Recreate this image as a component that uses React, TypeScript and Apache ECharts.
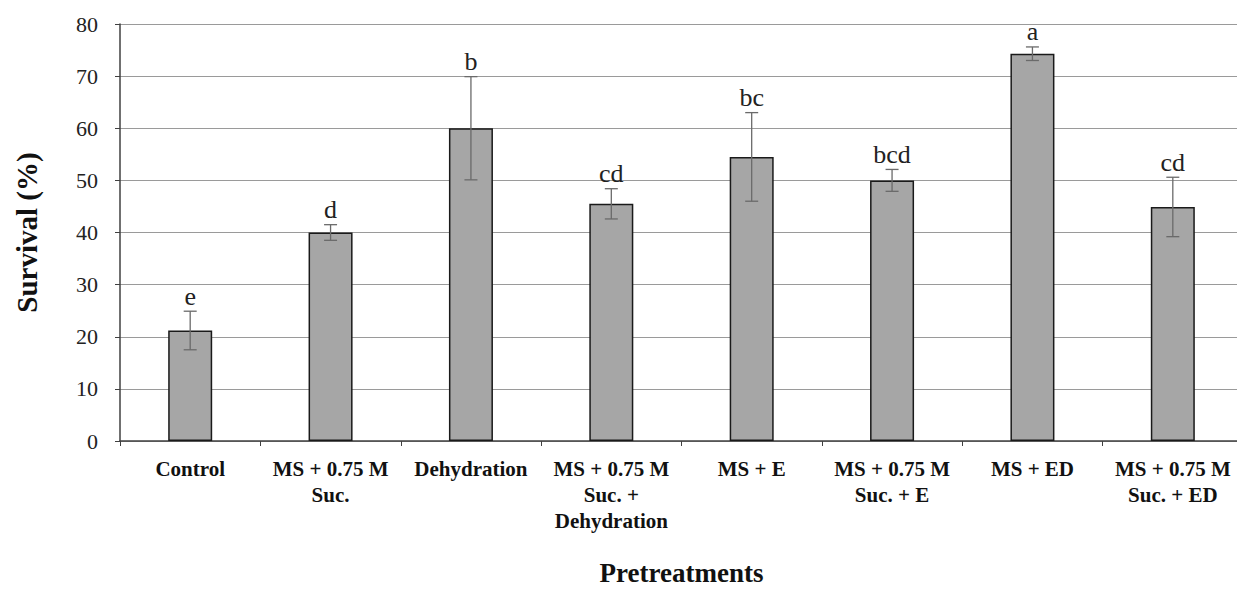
import React, { useEffect, useRef } from "react";
import * as echarts from "echarts";

const categories = [
  "Control",
  "MS + 0.75 M\nSuc.",
  "Dehydration",
  "MS + 0.75 M\nSuc. +\nDehydration",
  "MS + E",
  "MS + 0.75 M\nSuc. + E",
  "MS + ED",
  "MS + 0.75 M\nSuc. + ED",
];
const survival = [21.2, 40.0, 60.0, 45.5, 54.5, 50.0, 74.3, 44.9];
const errors = [3.7, 1.5, 9.9, 2.9, 8.5, 2.1, 1.3, 5.7];
const letters = ["e", "d", "b", "cd", "bc", "bcd", "a", "cd"];

const FONT = "'Liberation Serif', 'Times New Roman', serif";

export default function App() {
  const ref = useRef<HTMLDivElement>(null);
  useEffect(() => {
    if (!ref.current) return;
    const chart = echarts.init(ref.current, null, { renderer: "svg" });
    const errData = survival.map((v, i) => [i, v - errors[i], v + errors[i], letters[i]]);
    chart.setOption({
      animation: false,
      backgroundColor: "#ffffff",
      grid: { left: 120, top: 24, bottom: 148, right: -6, outerBoundsMode: "none", containLabel: false },
      xAxis: {
        type: "category",
        data: categories,
        name: "Pretreatments",
        nameLocation: "middle",
        nameGap: 118,
        nameTextStyle: { fontFamily: FONT, fontWeight: "bold", fontSize: 27, lineHeight: 27, color: "#111" },
        axisLine: { lineStyle: { color: "#404040", width: 1.5 } },
        axisTick: { show: true, length: 5, lineStyle: { color: "#404040" } },
        axisLabel: {
          interval: 0,
          margin: 15,
          fontFamily: FONT,
          fontWeight: "bold",
          fontSize: 21,
          lineHeight: 26,
          color: "#111",
        },
        splitLine: { show: false },
      },
      yAxis: {
        type: "value",
        min: 0,
        max: 80,
        interval: 10,
        name: "Survival (%)",
        nameLocation: "middle",
        nameGap: 78,
        nameRotate: 90,
        nameTextStyle: { fontFamily: FONT, fontWeight: "bold", fontSize: 29, lineHeight: 30, color: "#111" },
        axisLine: { show: true, lineStyle: { color: "#404040", width: 1.5 } },
        axisTick: { show: true, length: 5, lineStyle: { color: "#404040" } },
        axisLabel: { margin: 22, fontFamily: FONT, fontSize: 22, color: "#222" },
        splitLine: { show: true, lineStyle: { color: "#9a9a9a", width: 1 } },
      },
      series: [
        {
          type: "bar",
          data: survival,
          barWidth: 44,
          itemStyle: { color: "#a6a6a6", borderColor: "#1a1a1a", borderWidth: 1.5 },
          z: 2,
        },
        {
          type: "custom",
          data: errData,
          encode: { x: 0, y: [1, 2] },
          z: 3,
          renderItem: (params: any, api: any) => {
            const idx = api.value(0);
            const lo = api.coord([idx, api.value(1)]);
            const hi = api.coord([idx, api.value(2)]);
            const cap = 6.5;
            const st = { stroke: "#6a6a6a", lineWidth: 1.3 };
            return {
              type: "group",
              children: [
                { type: "line", shape: { x1: hi[0], y1: hi[1], x2: lo[0], y2: lo[1] }, style: st },
                { type: "line", shape: { x1: hi[0] - cap, y1: hi[1], x2: hi[0] + cap, y2: hi[1] }, style: st },
                { type: "line", shape: { x1: lo[0] - cap, y1: lo[1], x2: lo[0] + cap, y2: lo[1] }, style: st },
                {
                  type: "text",
                  x: hi[0],
                  y: hi[1] - 2,
                  style: {
                    text: letters[params.dataIndex],
                    align: "center",
                    verticalAlign: "bottom",
                    fontFamily: FONT,
                    fontSize: 26,
                    fill: "#222",
                  },
                },
              ],
            };
          },
        },
      ],
    });
    return () => chart.dispose();
  }, []);
  return (
    <div
      ref={ref}
      style={{ position: "absolute", left: 0, top: 0, width: 1237, height: 589, overflow: "hidden" }}
    />
  );
}
